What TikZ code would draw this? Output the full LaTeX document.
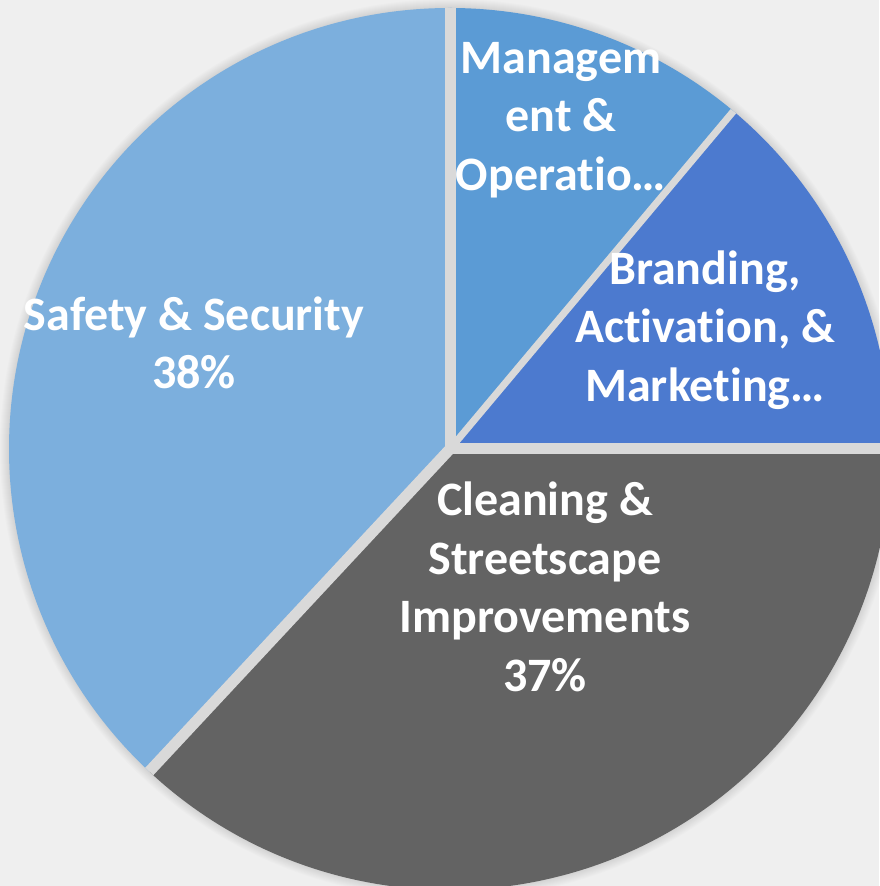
\documentclass[tikz,border=0pt]{standalone}
\usepackage{fontspec}
\setmainfont[Ligatures={NoCommon}]{Carlito}
\definecolor{bgcol}{HTML}{EFEFEF}
\definecolor{gapcol}{HTML}{D9D9D9}
\definecolor{safety}{HTML}{7CAFDD}
\definecolor{mgmt}{HTML}{5B9BD5}
\definecolor{brand}{HTML}{4C7ACF}
\definecolor{clean}{HTML}{636363}
\tikzset{
  slicelabel/.style={text=white, align=center, inner sep=0pt, font=\bfseries\fontsize{48}{58.5}\selectfont},
  gapline/.style={gapcol, line width=11pt}
}
\begin{document}
\begin{tikzpicture}[x=1pt,y=1pt]
\useasboundingbox (0,0) rectangle (879,886);
\fill[bgcol] (0,0) rectangle (879,886);
\coordinate (O) at (450,437);
% soft shadow
\foreach \i in {1,...,9} {\fill[black,opacity=0.012] (O) circle ({441+\i});}
% slices
\fill[safety] (O) -- ++(90:441) arc[start angle=90,end angle=227,radius=441] -- cycle;
\fill[mgmt] (O) -- ++(50:441) arc[start angle=50,end angle=90,radius=441] -- cycle;
\fill[brand] (O) -- ++(0:441) arc[start angle=0,end angle=50,radius=441] -- cycle;
\fill[clean] (O) -- ++(-133:441) arc[start angle=-133,end angle=0,radius=441] -- cycle;
% gaps
\begin{scope}
\clip (O) circle (441);
\draw[gapline] (O) -- ++(90:460);
\draw[gapline, line width=7pt] (O) -- ++(50:460);
\draw[gapline] (O) -- ++(0:460);
\draw[gapline] (O) -- ++(227:460);
\end{scope}
% labels
\node[slicelabel] (lmgmt) at (561,766) {Managem\\ent \&\\Operatio…};
\node[slicelabel] (lbrand) at (705,556) {Branding,\\Activation, \&\\Marketing…};
\node[slicelabel] (lsafe) at (194,543) {Safety \& Security\\38\%};
\node[slicelabel] (lclean) at (545,299) {Cleaning \&\\Streetscape\\Improvements\\37\%};
\end{tikzpicture}
\end{document}
